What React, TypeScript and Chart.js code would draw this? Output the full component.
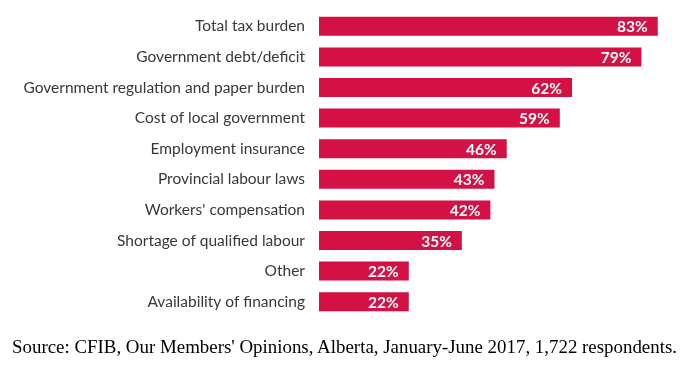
import React, { useEffect, useRef } from "react";
import { Chart, registerables } from "chart.js";

Chart.register(...registerables);

const categories = [
  "Total tax burden",
  "Government debt/deficit",
  "Government regulation and paper burden",
  "Cost of local government",
  "Employment insurance",
  "Provincial labour laws",
  "Workers' compensation",
  "Shortage of qualified labour",
  "Other",
  "Availability of financing",
];
const values = [83, 79, 62, 59, 46, 43, 42, 35, 22, 22];
const sourceText =
  "Source: CFIB, Our Members' Opinions, Alberta, January-June 2017, 1,722 respondents.";

const BAR_COLOR = "#D31145";
const LABEL_FONT = "Lato, 'Open Sans', sans-serif";

const valueLabels = {
  id: "valueLabels",
  afterDatasetsDraw(chart: any) {
    const ctx = chart.ctx;
    const meta = chart.getDatasetMeta(0);
    ctx.save();
    ctx.fillStyle = "#ffffff";
    ctx.font = `bold 15.5px ${LABEL_FONT}`;
    ctx.textAlign = "right";
    ctx.textBaseline = "middle";
    meta.data.forEach((bar: any, i: number) => {
      ctx.fillText(values[i] + "%", bar.x - 10, bar.y + 1);
    });
    ctx.restore();
  },
};

export default function App() {
  const ref = useRef<HTMLCanvasElement>(null);
  useEffect(() => {
    if (!ref.current) return;
    const chart = new Chart(ref.current, {
      type: "bar",
      data: {
        labels: categories,
        datasets: [
          {
            data: values,
            backgroundColor: BAR_COLOR,
            borderWidth: 0,
            barPercentage: 0.62,
            categoryPercentage: 1,
          },
        ],
      },
      options: {
        indexAxis: "y",
        animation: false,
        responsive: false,
        maintainAspectRatio: false,
        layout: { padding: { top: 11, bottom: 69, right: 10, left: 0 } },
        plugins: {
          legend: { display: false },
          tooltip: { enabled: false },
          title: { display: false },
        },
        scales: {
          x: {
            display: false,
            min: 0,
            max: 86,
          },
          y: {
            afterFit(scale: any) {
              scale.width = 319;
              scale.paddingTop = 0;
              scale.paddingBottom = 0;
            },
            grid: { display: false, drawTicks: false },
            border: { display: false },
            ticks: {
              padding: 14,
              color: "#383838",
              font: { family: LABEL_FONT, size: 15.5 },
            },
          },
        },
      },
      plugins: [valueLabels],
    });
    return () => chart.destroy();
  }, []);
  return (
    <div
      style={{
        position: "fixed",
        left: 0,
        top: 0,
        width: 680,
        height: 386,
        background: "#ffffff",
      }}
    >
      <canvas ref={ref} width={680} height={386} style={{ display: "block" }} />
      <div
        style={{
          position: "absolute",
          left: 12,
          top: 336,
          fontFamily: "'Liberation Serif', 'Times New Roman', serif",
          fontSize: 18.9,
          color: "#000000",
          whiteSpace: "nowrap",
        }}
      >
        {sourceText}
      </div>
    </div>
  );
}
